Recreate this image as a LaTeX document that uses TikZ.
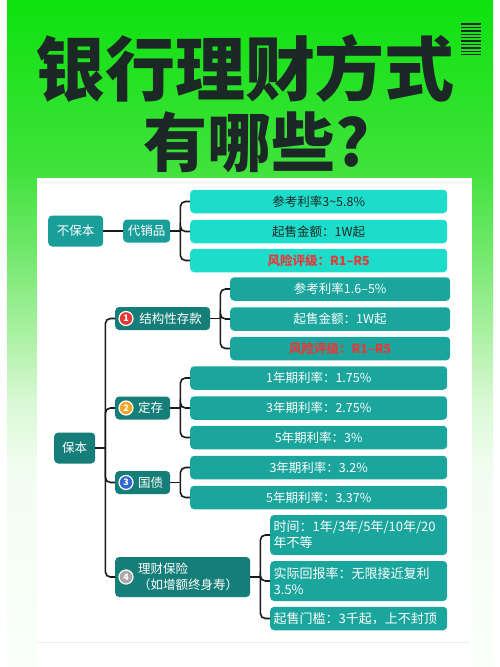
\documentclass[tikz,border=0pt]{standalone}
\usepackage{fontspec}
\usepackage{xcolor}
\usepackage{tikz}
\usetikzlibrary{positioning}
\setmainfont{Noto Sans CJK SC}
\definecolor{grtop}{HTML}{0EE20E}
\definecolor{grhi}{HTML}{40E23C}
\definecolor{grmid}{HTML}{70E86A}
\definecolor{grlow}{HTML}{A8F0A0}
\definecolor{grpale}{HTML}{D8F8D4}
\definecolor{grfaint}{HTML}{F2FDF1}
\definecolor{grbot}{HTML}{FAFFFA}
\definecolor{ink}{HTML}{1C2826}
\definecolor{aqua}{HTML}{1CDCCA}
\definecolor{leafteal}{HTML}{1AA59D}
\definecolor{deepteal}{HTML}{167E78}
\definecolor{midteal}{HTML}{1A9E99}
\definecolor{riskred}{HTML}{E63A3A}
\definecolor{wireblack}{HTML}{1A1A1A}
\definecolor{haze}{HTML}{ECEFEE}
\definecolor{bred}{HTML}{E5383B}
\definecolor{bgold}{HTML}{F4A62A}
\definecolor{bblue}{HTML}{3367D6}
\definecolor{bgrey}{HTML}{A8A8A8}
\pgfdeclareverticalshading{greenfade}{100bp}{color(0bp)=(grbot); color(25bp)=(grbot);
  color(39.8bp)=(grfaint); color(45bp)=(grpale); color(50.3bp)=(grlow);
  color(56.3bp)=(grmid); color(62.3bp)=(grhi); color(75bp)=(grtop); color(100bp)=(grtop)}
\tikzset{
  box/.style={rounded corners=4pt, inner sep=0pt, anchor=west, text=white, font=\fontsize{12.5}{16}\selectfont},
  root/.style={box, minimum height=31pt},
  twig/.style={box, fill=deepteal, minimum height=23pt},
  leafa/.style={box, fill=aqua, text=ink, minimum height=23.5pt, minimum width=257pt},
  leafb/.style={box, fill=leafteal, minimum height=23.5pt, minimum width=257pt},
  risk/.style={text=riskred, font=\fontsize{12.5}{16}\selectfont\bfseries},
  note/.style={box, fill=leafteal, minimum width=177pt, text width=170pt, inner xsep=3.5pt, align=left, font=\fontsize{13}{16}\selectfont},
  badge/.style={circle, fill=#1, draw=white, line width=1.2pt, inner sep=0pt, minimum size=14pt, text=white, font=\fontsize{9}{9}\selectfont\bfseries},
  wire/.style={draw=wireblack, line width=1.6pt, rounded corners=5pt},
  headline/.style={text=ink, font=\fontsize{70}{70}\selectfont\bfseries},
}

\begin{document}
\begin{tikzpicture}[x=1pt,y=-1pt]
\useasboundingbox (0,0) rectangle (500,667);
% backdrop
\fill[white] (0,0) rectangle (500,667);
\fill[shading=greenfade] (7,0) rectangle (493,667);
\fill[white] (37,178) rectangle (472,667);
\draw[haze, line width=1pt] (37,642) -- (470,642);

% title
\node[headline] (t1) at (245,68) {银行理财方式};
\node[headline, font=\fontsize{64}{64}\selectfont\bfseries] (t2) at (257,142) {有哪些?};
\foreach \k in {0,...,9}
  \draw[ink, line width=1.4pt] (461,{24+3.4*\k}) -- (481,{24+3.4*\k});

% not guaranteed
\node[root, fill=midteal, minimum width=55pt] (nb) at (48,231) {不保本};
\node[twig, fill=midteal, minimum width=47pt] (dx) at (123,231) {代销品};
\node[leafa] (dx1) at (190,201.5) {参考利率3\textasciitilde5.8\%};
\node[leafa] (dx2) at (190,231.5) {起售金额：1W起};
\node[leafa, risk] (dx3) at (190,260.5) {风险评级：R1–R5};
\draw[wire] (nb) -- (dx);
\draw[wire] (dx.east) -- ++(10,0) coordinate (dxj);
\foreach \i in {1,2,3} \draw[wire] (dxj) |- (dx\i.west);

% guaranteed
\node[root, fill=deepteal, minimum width=41pt] (bb) at (54,448) {保本};
\node[twig, minimum width=95pt] (jg) at (115,318.5) {\hspace*{16pt}结构性存款};
\node[twig, minimum width=55pt] (dc) at (115,408) {\hspace*{16pt}定存};
\node[twig, minimum width=55pt] (gz) at (115,482.5) {\hspace*{16pt}国债};
\node[twig, minimum width=135pt, minimum height=40pt, text width=123pt, inner xsep=6pt, align=left] (lc) at (115,577)
  {\hspace*{17pt}理财保险\\\hspace*{17pt}（如增额终身寿）};
\node[badge=bred] (b1) at (126,318.5) {1};
\node[badge=bgold] (b2) at (126,408) {2};
\node[badge=bblue] (b3) at (126,482.5) {3};
\node[badge=bgrey] (b4) at (126,577) {4};
\draw[wire] (bb.east) -- ++(10,0) coordinate (bbj);
\foreach \n in {jg,dc,gz,lc} \draw[wire] (bbj) |- (\n.west);

\node[leafb, minimum width=220pt] (jg1) at (230,289) {参考利率1.6–5\%};
\node[leafb, minimum width=220pt] (jg2) at (230,319) {起售金额：1W起};
\node[leafb, minimum width=220pt, risk] (jg3) at (230,348.5) {风险评级：R1–R5};
\draw[wire] (jg.east) -- ++(10,0) coordinate (jgj);
\foreach \i in {1,2,3} \draw[wire] (jgj) |- (jg\i.west);

\node[leafb] (dc1) at (190,378) {1年期利率：1.75\%};
\node[leafb] (dc2) at (190,408) {3年期利率：2.75\%};
\node[leafb] (dc3) at (190,437.5) {5年期利率：3\%};
\draw[wire] (dc.east) -- ++(10,0) coordinate (dcj);
\foreach \i in {1,2,3} \draw[wire] (dcj) |- (dc\i.west);

\node[leafb] (gz1) at (190,467.5) {3年期利率：3.2\%};
\node[leafb] (gz2) at (190,497.5) {5年期利率：3.37\%};
\draw[wire] (gz.east) -- ++(10,0) coordinate (gzj);
\foreach \i in {1,2} \draw[wire] (gzj) |- (gz\i.west);

\node[note, minimum height=40pt] (lc1) at (270,535) {时间：1年/3年/5年/10年/20\\年不等};
\node[note, minimum height=40pt] (lc2) at (270,581) {实际回报率：无限接近复利\\3.5\%};
\node[note, minimum height=23.5pt] (lc3) at (270,618.5) {起售门槛：3千起，上不封顶};
\draw[wire] (lc.east) -- ++(10,0) coordinate (lcj);
\foreach \i in {1,2,3} \draw[wire] (lcj) |- (lc\i.west);
\end{tikzpicture}
\end{document}
